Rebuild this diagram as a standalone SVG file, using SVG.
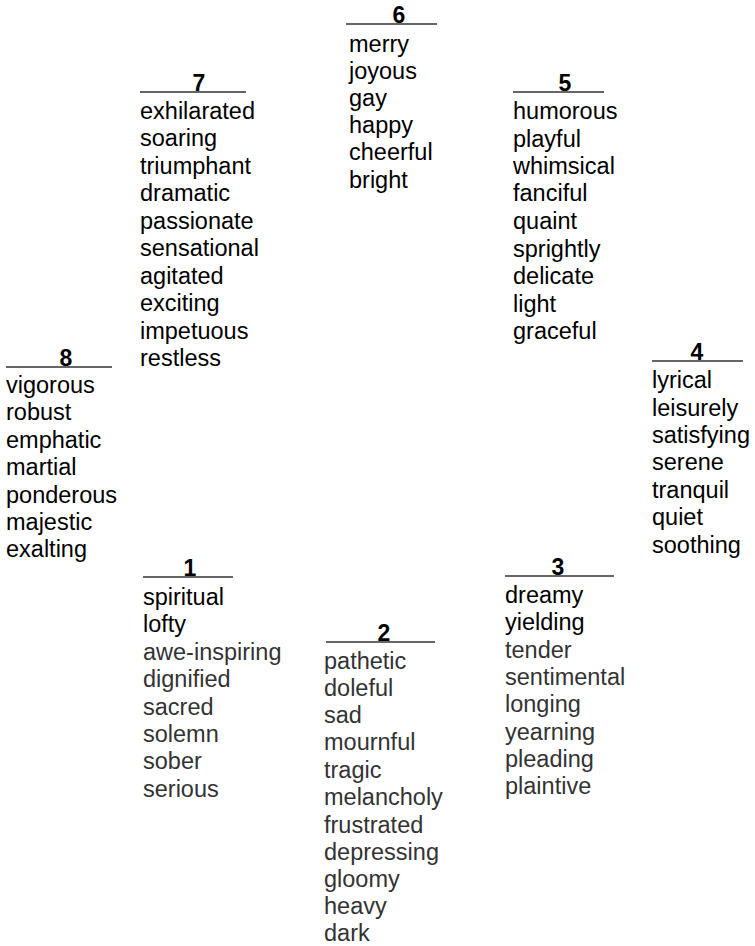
<svg xmlns="http://www.w3.org/2000/svg" width="755" height="946" viewBox="0 0 755 946">
<style>
.w{font-family:"Liberation Sans",Arial,sans-serif;font-size:23.5px;fill:#000}
.g{fill:#333}
.n{font-family:"Liberation Sans",Arial,sans-serif;font-size:23px;font-weight:bold;fill:#000;text-anchor:middle}
.l{stroke:#333;stroke-width:1.5}
</style>
<rect width="755" height="946" fill="#fff"/>
<g id="group6">
<line class="l" x1="346" y1="24" x2="437" y2="24"/>
<text class="n" x="399" y="23">6</text>
<text class="w"><tspan x="349" y="52">merry</tspan><tspan x="349" y="79">joyous</tspan><tspan x="349" y="106">gay</tspan><tspan x="349" y="133">happy</tspan><tspan x="349" y="160">cheerful</tspan><tspan x="349" y="188">bright</tspan></text>
</g>
<g id="group7">
<line class="l" x1="140" y1="92" x2="246" y2="92"/>
<text class="n" x="199" y="91">7</text>
<text class="w"><tspan x="140" y="119">exhilarated</tspan><tspan x="140" y="146">soaring</tspan><tspan x="140" y="174">triumphant</tspan><tspan x="140" y="201">dramatic</tspan><tspan x="140" y="229">passionate</tspan><tspan x="140" y="256">sensational</tspan><tspan x="140" y="284">agitated</tspan><tspan x="140" y="311">exciting</tspan><tspan x="140" y="339">impetuous</tspan><tspan x="140" y="366">restless</tspan></text>
</g>
<g id="group5">
<line class="l" x1="513" y1="92" x2="604" y2="92"/>
<text class="n" x="565" y="91">5</text>
<text class="w"><tspan x="513" y="119">humorous</tspan><tspan x="513" y="147">playful</tspan><tspan x="513" y="174">whimsical</tspan><tspan x="513" y="201">fanciful</tspan><tspan x="513" y="229">quaint</tspan><tspan x="513" y="257">sprightly</tspan><tspan x="513" y="284">delicate</tspan><tspan x="513" y="312">light</tspan><tspan x="513" y="339">graceful</tspan></text>
</g>
<g id="group8">
<line class="l" x1="6" y1="367" x2="112" y2="367"/>
<text class="n" x="66" y="366">8</text>
<text class="w"><tspan x="6" y="393">vigorous</tspan><tspan x="6" y="420">robust</tspan><tspan x="6" y="448">emphatic</tspan><tspan x="6" y="475">martial</tspan><tspan x="6" y="503">ponderous</tspan><tspan x="6" y="530">majestic</tspan><tspan x="6" y="557">exalting</tspan></text>
</g>
<g id="group4">
<line class="l" x1="652" y1="361" x2="743" y2="361"/>
<text class="n" x="697" y="360">4</text>
<text class="w"><tspan x="652" y="388">lyrical</tspan><tspan x="652" y="416">leisurely</tspan><tspan x="652" y="443">satisfying</tspan><tspan x="652" y="470">serene</tspan><tspan x="652" y="498">tranquil</tspan><tspan x="652" y="525">quiet</tspan><tspan x="652" y="553">soothing</tspan></text>
</g>
<g id="group1">
<line class="l" x1="143" y1="577" x2="233" y2="577"/>
<text class="n" x="190" y="576">1</text>
<text class="w"><tspan x="143" y="605">spiritual</tspan><tspan x="143" y="632">lofty</tspan><tspan class="g" x="143" y="660">awe-inspiring</tspan><tspan class="g" x="143" y="687">dignified</tspan><tspan class="g" x="143" y="715">sacred</tspan><tspan class="g" x="143" y="742">solemn</tspan><tspan class="g" x="143" y="769">sober</tspan><tspan class="g" x="143" y="797">serious</tspan></text>
</g>
<g id="group3">
<line class="l" x1="505" y1="576" x2="614" y2="576"/>
<text class="n" x="558" y="575">3</text>
<text class="w"><tspan x="505" y="603">dreamy</tspan><tspan x="505" y="630">yielding</tspan><tspan class="g" x="505" y="658">tender</tspan><tspan class="g" x="505" y="685">sentimental</tspan><tspan class="g" x="505" y="712">longing</tspan><tspan class="g" x="505" y="740">yearning</tspan><tspan class="g" x="505" y="767">pleading</tspan><tspan class="g" x="505" y="794">plaintive</tspan></text>
</g>
<g id="group2">
<line class="l" x1="326" y1="642" x2="435" y2="642"/>
<text class="n" x="384" y="641">2</text>
<text class="w g"><tspan x="324" y="669">pathetic</tspan><tspan x="324" y="696">doleful</tspan><tspan x="324" y="723">sad</tspan><tspan x="324" y="750">mournful</tspan><tspan x="324" y="778">tragic</tspan><tspan x="324" y="805">melancholy</tspan><tspan x="324" y="833">frustrated</tspan><tspan x="324" y="860">depressing</tspan><tspan x="324" y="887">gloomy</tspan><tspan x="324" y="914">heavy</tspan><tspan x="324" y="941">dark</tspan></text>
</g>
<g id="connectors"/>
</svg>
